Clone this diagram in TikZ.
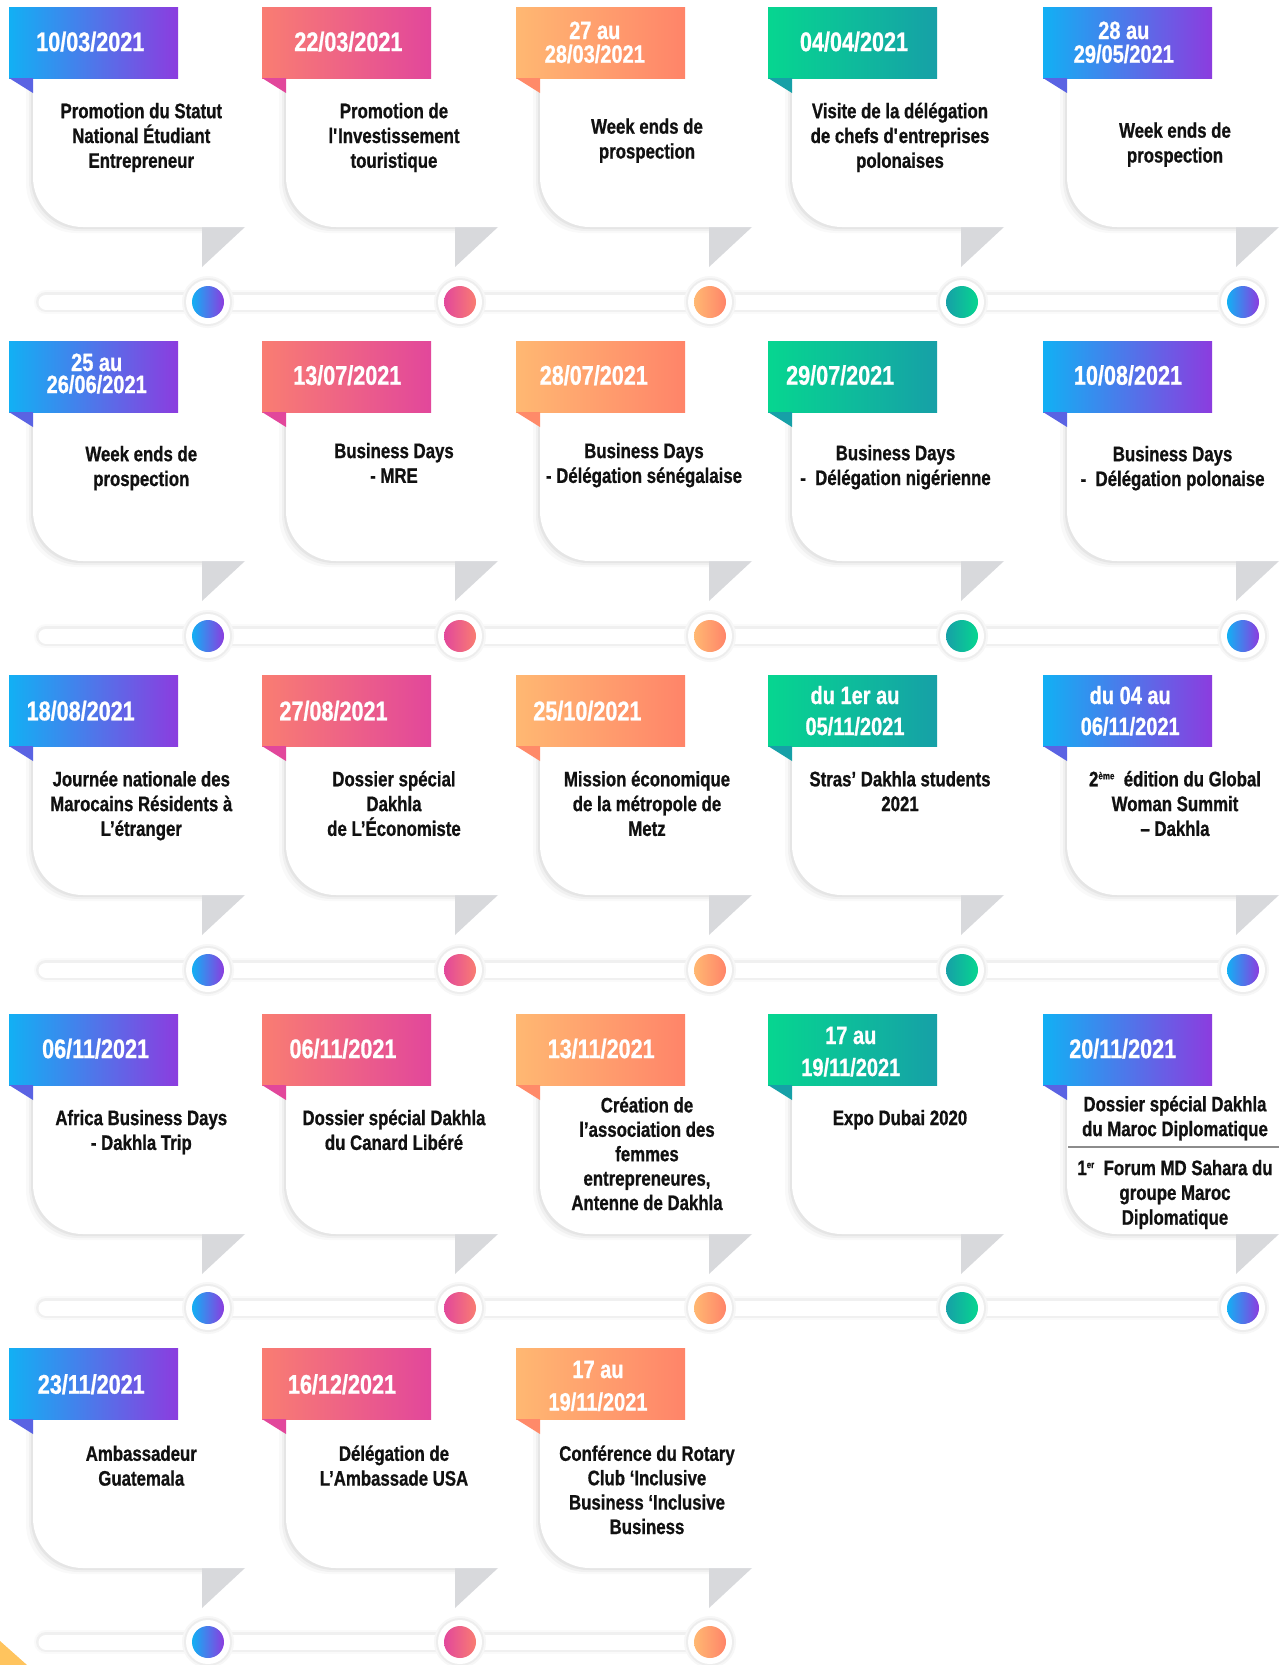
\documentclass[tikz,border=0pt]{standalone}
\usepackage{fontspec}
\setmainfont{Liberation Sans}[FakeStretch=0.8, BoldFeatures={FakeBold=0.8}]
\definecolor{aL}{HTML}{12B0F4}\definecolor{aR}{HTML}{8C3CDF}\definecolor{aF}{HTML}{5A63E3}
\definecolor{bL}{HTML}{F97D72}\definecolor{bR}{HTML}{E2479B}\definecolor{bF}{HTML}{E2479B}
\definecolor{cL}{HTML}{FFB872}\definecolor{cR}{HTML}{FF8469}\definecolor{cF}{HTML}{FF8A69}
\definecolor{dL}{HTML}{06D690}\definecolor{dR}{HTML}{16A0A7}\definecolor{dF}{HTML}{16A0A7}
\definecolor{tricol}{HTML}{D8D9DC}
\definecolor{txt}{HTML}{111111}
\definecolor{corner}{HTML}{FFC45E}
\newcommand{\cardpath}[2]{({#1+24},{#2+18}) -- ({#1+211},{#2+18}) arc[start angle=-90,end angle=0,radius=25] -- ({#1+236},{#2+220}) -- ({#1+74},{#2+220}) arc[start angle=90,end angle=180,radius=50] -- cycle}
\newcommand{\drawcard}[3]{%
  \fill[black,opacity=0.025,shift={(-7,6)}] \cardpath{#1}{#2};
  \fill[black,opacity=0.035,shift={(-4,4)}] \cardpath{#1}{#2};
  \fill[black,opacity=0.045,shift={(-2,2)}] \cardpath{#1}{#2};
  \fill[tricol] ({#1+193},{#2+220}) -- ({#1+236},{#2+220}) -- ({#1+193},{#2+260}) -- cycle;
  \fill[white] \cardpath{#1}{#2};
  \shade[left color=#3L,right color=#3R] (#1,#2) rectangle ({#1+169},{#2+71});
  \fill[#3F] (#1,{#2+71}) -- ({#1+24},{#2+71}) -- ({#1+24},{#2+86}) -- cycle;
}
\newcommand{\tlbar}[2]{%
  \draw[line width=24, black!2, line cap=round] (46,#1) -- (#2,#1);
  \draw[line width=20, black!6, line cap=round] (46,#1) -- (#2,#1);
  \draw[line width=15, white, line cap=round] (46,#1) -- (#2,#1);
}
\newcommand{\tldot}[4]{%
  \fill[black!3] (#1,#2) circle[radius=26];
  \fill[black!7] (#1,#2) circle[radius=24];
  \fill[white] (#1,#2) circle[radius=22];
  \shade[left color=#3,right color=#4] (#1,#2) circle[radius=16];
}
\newcommand{\supsc}[1]{\raisebox{7pt}{\fontsize{10}{10}\selectfont #1}}
\tikzset{
  body/.style={font=\bfseries\fontsize{21}{24.8}\selectfont, align=center, anchor=north, inner sep=0pt, text=txt},
  bodyt/.style={font=\bfseries\fontsize{21}{24.4}\selectfont, align=center, anchor=north, inner sep=0pt, text=txt},
  date/.style={font=\bfseries\fontsize{27}{30}\selectfont, anchor=base, inner sep=0pt, text=white},
  dtwo/.style={font=\bfseries\fontsize{25}{28}\selectfont, anchor=base, inner sep=0pt, text=white}
}
\newcommand{\st}{\rule{0pt}{20pt}}
\begin{document}
\begin{tikzpicture}[x=1pt,y=-1pt]
\useasboundingbox (0,0) rectangle (1280,1665);
\fill[white] (0,0) rectangle (1280,1665);
% ---------- timelines ----------
\foreach \yy in {302,636,970,1308} {
  \tlbar{\yy}{1243}
  \tldot{208}{\yy}{aL}{aR}
  \tldot{460}{\yy}{bR}{bL}
  \tldot{710}{\yy}{cL}{cR}
  \tldot{962}{\yy}{dR}{dL}
  \tldot{1243}{\yy}{aL}{aR}
}
\tlbar{1642}{710}
\tldot{208}{1642}{aL}{aR}
\tldot{460}{1642}{bR}{bL}
\tldot{710}{1642}{cL}{cR}
% ---------- cards ----------
\foreach \tt in {7,341,675,1014} {
  \drawcard{9}{\tt}{a}
  \drawcard{262}{\tt}{b}
  \drawcard{516}{\tt}{c}
  \drawcard{768}{\tt}{d}
  \drawcard{1043}{\tt}{a}
}
\drawcard{9}{1348}{a}
\drawcard{262}{1348}{b}
\drawcard{516}{1348}{c}
\fill[corner] (0,1641) -- (27,1665) -- (0,1665) -- cycle;
% ---------- row 1 ----------
\node[date] (d11) at (90.3,51.1) {10/03/2021};
\node[date] (d12) at (348.4,51.1) {22/03/2021};
\node[dtwo] (d13a) at (594.8,39) {27 au};
\node[dtwo] (d13b) at (594.8,62.7) {28/03/2021};
\node[date] (d14) at (854,51.1) {04/04/2021};
\node[dtwo] (d15a) at (1123.8,39) {28 au};
\node[dtwo] (d15b) at (1123.8,62.7) {29/05/2021};
\node[body] (t11) at (141.3,98) {\st Promotion du Statut\\National Étudiant\\Entrepreneur};
\node[body] (t12) at (394,98) {\st Promotion de\\l\textquotesingle Investissement\\touristique};
\node[body] (t13) at (647,113.5) {\st Week ends de\\prospection};
\node[body] (t14) at (900,98) {\st Visite de la délégation\\de chefs d\textquotesingle entreprises\\polonaises};
\node[body] (t15) at (1175,117.5) {\st Week ends de\\prospection};
% ---------- row 2 ----------
\node[dtwo] (d21a) at (96.7,371) {25 au};
\node[dtwo] (d21b) at (96.7,393) {26/06/2021};
\node[date] (d22) at (347.3,384.7) {13/07/2021};
\node[date] (d23) at (593.8,384.7) {28/07/2021};
\node[date] (d24) at (840.2,384.7) {29/07/2021};
\node[date] (d25) at (1128,384.7) {10/08/2021};
\node[body] (t21) at (141.3,441) {\st Week ends de\\prospection};
\node[body] (t22) at (394,437.9) {\st Business Days\\- MRE};
\node[body] (t23) at (644,437.9) {\st Business Days\\- Délégation sénégalaise};
\node[body] (t24) at (895.5,440) {\st Business Days\\-\ \ Délégation nigérienne};
\node[body] (t25) at (1172.6,441) {\st Business Days\\-\ \ Délégation polonaise};
% ---------- row 3 ----------
\node[date] (d31) at (80.7,720.3) {18/08/2021};
\node[date] (d32) at (333.5,720.3) {27/08/2021};
\node[date] (d33) at (587.4,720.3) {25/10/2021};
\node[dtwo] (d34a) at (855,704) {du 1er au};
\node[dtwo] (d34b) at (855,735) {05/11/2021};
\node[dtwo] (d35a) at (1130.2,704) {du 04 au};
\node[dtwo] (d35b) at (1130.2,735) {06/11/2021};
\node[body] (t31) at (141.3,766.1) {\st Journée nationale des\\Marocains Résidents à\\L’étranger};
\node[body] (t32) at (394,766.1) {\st Dossier spécial\\Dakhla\\de L’Économiste};
\node[body] (t33) at (647,766.1) {\st Mission économique\\de la métropole de\\Metz};
\node[body] (t34) at (900,766.1) {\st Stras’ Dakhla students\\2021};
\node[body] (t35) at (1175,766.1) {\st 2\supsc{ème}\ \ édition du Global\\Woman Summit\\– Dakhla};
% ---------- row 4 ----------
\node[date] (d41) at (95.6,1058.1) {06/11/2021};
\node[date] (d42) at (343,1058.1) {06/11/2021};
\node[date] (d43) at (601.2,1058.1) {13/11/2021};
\node[dtwo] (d44a) at (850.8,1044) {17 au};
\node[dtwo] (d44b) at (850.8,1076) {19/11/2021};
\node[date] (d45) at (1122.7,1058.1) {20/11/2021};
\node[body] (t41) at (141.3,1104.9) {\st Africa Business Days\\- Dakhla Trip};
\node[body] (t42) at (394,1104.9) {\st Dossier spécial Dakhla\\du Canard Libéré};
\node[bodyt] (t43) at (647,1092.2) {\st Création de\\l’association des\\femmes\\entrepreneures,\\Antenne de Dakhla};
\node[body] (t44) at (900,1104.9) {\st Expo Dubai 2020};
\node[body] (t45a) at (1175,1091.1) {\st Dossier spécial Dakhla\\du Maroc Diplomatique};
\coordinate (s45a) at (1068,1147);
\coordinate (s45b) at (1279,1147);
\draw[black!45, line width=1.3] (s45a) -- (s45b);
\node[body] (t45b) at (1175,1154.9) {\st 1\supsc{er}\ \ Forum MD Sahara du\\groupe Maroc\\Diplomatique};
% ---------- row 5 ----------
\node[date] (d51) at (91.3,1393.7) {23/11/2021};
\node[date] (d52) at (342,1393.7) {16/12/2021};
\node[dtwo] (d53a) at (598,1378) {17 au};
\node[dtwo] (d53b) at (598,1410.5) {19/11/2021};
\node[body] (t51) at (141.3,1440.6) {\st Ambassadeur\\Guatemala};
\node[body] (t52) at (394,1440.6) {\st Délégation de\\L’Ambassade USA};
\node[bodyt] (t53) at (647,1440.6) {\st Conférence du Rotary\\Club ‘Inclusive\\Business ‘Inclusive\\Business};
\end{tikzpicture}
\end{document}
